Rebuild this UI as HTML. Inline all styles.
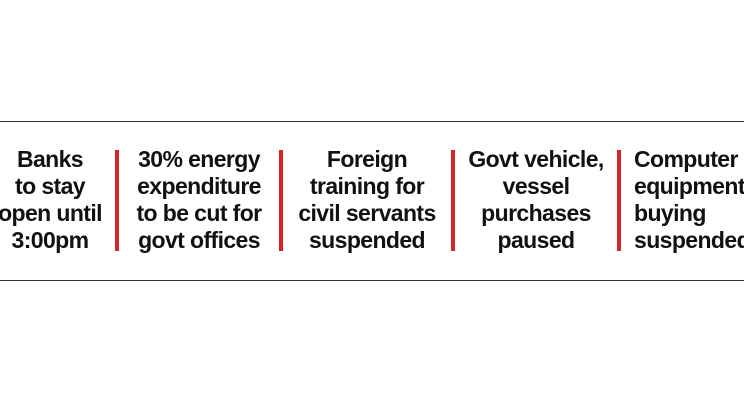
<!DOCTYPE html>
<html><head><style>
body{margin:0;width:744px;height:418px;background:#fff;position:relative;overflow:hidden;font-family:"Liberation Sans",sans-serif;}
.hl{position:absolute;left:0;width:744px;height:1px;background:#333;}
.bar{position:absolute;top:150px;width:4px;height:101px;background:#d8232a;}
.t{position:absolute;top:146px;font-size:23px;font-weight:bold;line-height:27px;color:#111;white-space:nowrap;text-align:center;letter-spacing:-0.6px;}
</style></head><body>
<div class="hl" style="top:121px"></div>
<div class="hl" style="top:280px"></div>
<div class="bar" style="left:115px"></div>
<div class="bar" style="left:279px"></div>
<div class="bar" style="left:451px"></div>
<div class="bar" style="left:617px"></div>
<div class="t" style="left:-10px;width:120px">Banks<br>to stay<br>open until<br>3:00pm</div>
<div class="t" style="left:134px;width:130px">30% energy<br>expenditure<br>to be cut for<br>govt offices</div>
<div class="t" style="left:296px;width:142px">Foreign<br>training for<br>civil servants<br>suspended</div>
<div class="t" style="left:466px;width:140px">Govt vehicle,<br>vessel<br>purchases<br>paused</div>
<div class="t" style="left:634px;text-align:left">Computer<br>equipment<br>buying<br>suspended</div>
</body></html>
